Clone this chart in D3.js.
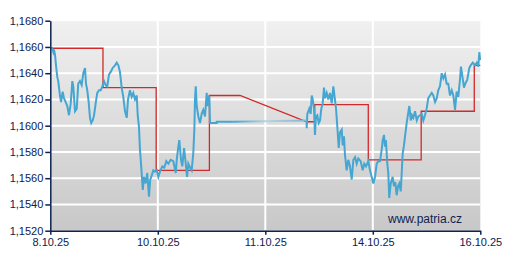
<!DOCTYPE html>
<html>
<head>
<meta charset="utf-8">
<script src="https://cdn.jsdelivr.net/npm/d3@7"></script>
<style>
  body { margin: 0; background: #fff; }
  svg { display: block; font-family: "Liberation Sans", Arial, sans-serif; }
</style>
</head>
<body>
<div id="chart"></div>
<script>
// x positions are in "label slots" (0 = 8.10.25 ... 4 = 16.10.25)
const xLabels = ["8.10.25", "10.10.25", "11.10.25", "14.10.25", "16.10.25"];
const yTicks = [1.152, 1.154, 1.156, 1.158, 1.160, 1.162, 1.164, 1.166, 1.168];

// red step line (daily reference levels)
const redT = [0.015, 0.49, 0.49, 0.985, 0.985, 1.48, 1.48, 1.765, 2.385, 2.46, 2.46, 2.958, 2.958, 3.45, 3.45, 3.944, 3.944, 4.0];
const redV = [1.1659, 1.1659, 1.1629, 1.1629, 1.1566, 1.1566, 1.1623, 1.1623, 1.1603, 1.1603, 1.1616, 1.1616, 1.1574, 1.1574, 1.1611, 1.1611, 1.1646, 1.1646];

// blue intraday quote
const blueT = [0.013, 0.028, 0.034, 0.044, 0.053, 0.065, 0.074, 0.090, 0.100, 0.115, 0.127, 0.143, 0.158, 0.174, 0.190, 0.205, 0.214, 0.230, 0.246, 0.260,
  0.276, 0.292, 0.307, 0.323, 0.332, 0.344, 0.357, 0.369, 0.381, 0.394, 0.407, 0.422, 0.437, 0.453, 0.469, 0.484, 0.500, 0.515, 0.530, 0.546,
  0.562, 0.580, 0.602, 0.618, 0.633, 0.648, 0.664, 0.679, 0.695, 0.711, 0.723, 0.741, 0.757, 0.772, 0.788, 0.804, 0.813, 0.825, 0.834, 0.850,
  0.860, 0.872, 0.887, 0.902, 0.918, 0.930, 0.943, 0.958, 0.974, 0.990, 1.005, 1.020, 1.042, 1.060, 1.079, 1.098, 1.120, 1.144, 1.167, 1.176,
  1.191, 1.200, 1.216, 1.228, 1.244, 1.260, 1.272, 1.284, 1.300, 1.315, 1.330, 1.340, 1.346, 1.353, 1.362, 1.377, 1.393, 1.408, 1.423, 1.439,
  1.455, 1.462, 1.470, 1.479, 1.486, 1.548, 1.548, 1.702, 1.702, 2.385, 2.385, 2.391, 2.400, 2.409, 2.422, 2.432, 2.441, 2.453, 2.462, 2.471,
  2.484, 2.497, 2.509, 2.521, 2.534, 2.546, 2.555, 2.571, 2.586, 2.602, 2.618, 2.633, 2.646, 2.658, 2.670, 2.683, 2.695, 2.711, 2.720, 2.732,
  2.741, 2.757, 2.772, 2.788, 2.804, 2.819, 2.835, 2.850, 2.865, 2.887, 2.906, 2.921, 2.937, 2.958, 2.974, 2.990, 3.005, 3.021, 3.036, 3.051,
  3.067, 3.083, 3.092, 3.104, 3.113, 3.122, 3.135, 3.144, 3.153, 3.167, 3.185, 3.197, 3.209, 3.222, 3.235, 3.247, 3.260, 3.269, 3.278, 3.290,
  3.300, 3.315, 3.328, 3.340, 3.353, 3.364, 3.377, 3.393, 3.409, 3.423, 3.439, 3.455, 3.470, 3.485, 3.501, 3.516, 3.532, 3.548, 3.563, 3.579,
  3.595, 3.609, 3.625, 3.641, 3.656, 3.672, 3.687, 3.702, 3.718, 3.734, 3.749, 3.765, 3.780, 3.795, 3.811, 3.820, 3.836, 3.848, 3.860, 3.879,
  3.898, 3.911, 3.930, 3.951, 3.967, 3.981, 3.991, 3.998];
const blueV = [1.1660, 1.1656, 1.1658, 1.1654, 1.1646, 1.1637, 1.1634, 1.1623, 1.1618, 1.1626, 1.1621, 1.1618, 1.1615, 1.1608, 1.1617, 1.1634, 1.1630, 1.1611, 1.1613, 1.1632,
  1.1634, 1.1631, 1.1640, 1.1644, 1.1632, 1.1627, 1.1618, 1.1606, 1.1602, 1.1604, 1.1608, 1.1617, 1.1625, 1.1627, 1.1627, 1.1630, 1.1634, 1.1631, 1.1630, 1.1639,
  1.1641, 1.1644, 1.1646, 1.1648, 1.1646, 1.1641, 1.1629, 1.1622, 1.1611, 1.1606, 1.1620, 1.1627, 1.1622, 1.1625, 1.1620, 1.1623, 1.1608, 1.1599, 1.1582, 1.1564,
  1.1551, 1.1561, 1.1556, 1.1564, 1.1546, 1.1559, 1.1562, 1.1566, 1.1565, 1.1566, 1.1561, 1.1565, 1.1569, 1.1568, 1.1573, 1.1571, 1.1574, 1.1573, 1.1564, 1.1574,
  1.1584, 1.1589, 1.1574, 1.1569, 1.1583, 1.1571, 1.1561, 1.1571, 1.1568, 1.1566, 1.1579, 1.1597, 1.1620, 1.1630, 1.1615, 1.1607, 1.1602, 1.1609, 1.1612, 1.1607,
  1.1625, 1.1615, 1.1620, 1.1623, 1.1602, 1.1602, 1.1603, 1.1603, 1.1603, 1.1604, 1.1598, 1.1609, 1.1611, 1.1613, 1.1609, 1.1623, 1.1620, 1.1613, 1.1593, 1.1607,
  1.1608, 1.1602, 1.1604, 1.1613, 1.1617, 1.1629, 1.1621, 1.1625, 1.1620, 1.1625, 1.1617, 1.1630, 1.1621, 1.1613, 1.1599, 1.1583, 1.1595, 1.1597, 1.1585, 1.1592,
  1.1578, 1.1566, 1.1574, 1.1569, 1.1559, 1.1574, 1.1576, 1.1571, 1.1575, 1.1573, 1.1566, 1.1571, 1.1569, 1.1573, 1.1566, 1.1561, 1.1556, 1.1561, 1.1571, 1.1573,
  1.1573, 1.1582, 1.1589, 1.1593, 1.1584, 1.1589, 1.1571, 1.1564, 1.1545, 1.1556, 1.1561, 1.1554, 1.1557, 1.1547, 1.1554, 1.1556, 1.1550, 1.1564, 1.1579, 1.1585,
  1.1592, 1.1602, 1.1609, 1.1615, 1.1604, 1.1608, 1.1606, 1.1611, 1.1604, 1.1607, 1.1608, 1.1609, 1.1604, 1.1608, 1.1613, 1.1621, 1.1623, 1.1625, 1.1623, 1.1618,
  1.1621, 1.1627, 1.1630, 1.1640, 1.1636, 1.1639, 1.1632, 1.1632, 1.1623, 1.1627, 1.1623, 1.1612, 1.1626, 1.1622, 1.1635, 1.1645, 1.1636, 1.1629, 1.1632, 1.1635,
  1.1644, 1.1646, 1.1648, 1.1646, 1.1648, 1.1645, 1.1656, 1.1650];

// weekend gap segment of the blue line is drawn faded
const gapStart = blueT.lastIndexOf(1.702);

const width = 509, height = 270;
const margin = { top: 20.7, right: 28.7, bottom: 39.3, left: 50.3 };
const navy = "#0d2250";
const blue = "#45a6d2";

const x = d3.scaleLinear().domain([0, 4]).range([margin.left, width - margin.right]);
const y = d3.scaleLinear().domain([1.152, 1.168]).range([height - margin.bottom, margin.top]);

const svg = d3.select("#chart").append("svg")
  .attr("width", width)
  .attr("height", height);

const defs = svg.append("defs");
const bg = defs.append("linearGradient").attr("id", "bg").attr("x1", 0).attr("y1", 0).attr("x2", 0).attr("y2", 1);
bg.append("stop").attr("offset", "0%").attr("stop-color", "#f0f0f0");
bg.append("stop").attr("offset", "100%").attr("stop-color", "#c8c8c8");

const fade = defs.append("linearGradient").attr("id", "fade")
  .attr("gradientUnits", "userSpaceOnUse")
  .attr("x1", x(blueT[gapStart])).attr("x2", x(blueT[gapStart + 1]))
  .attr("y1", 0).attr("y2", 0);
fade.append("stop").attr("offset", "0%").attr("stop-color", blue);
fade.append("stop").attr("offset", "45%").attr("stop-color", "#b9d3df");
fade.append("stop").attr("offset", "100%").attr("stop-color", "#7db8d6");

svg.append("rect")
  .attr("x", x(0)).attr("y", y(1.168))
  .attr("width", x(4) - x(0)).attr("height", y(1.152) - y(1.168))
  .attr("fill", "url(#bg)");

// grid
svg.append("g").selectAll("line")
  .data(yTicks.slice(1))
  .join("line")
  .attr("x1", x(0)).attr("x2", x(4))
  .attr("y1", d => y(d)).attr("y2", d => y(d))
  .attr("stroke", "#fff").attr("stroke-width", d => d === 1.168 ? 1 : 2);

svg.append("g").selectAll("line")
  .data([1, 2, 3])
  .join("line")
  .attr("x1", d => x(d)).attr("x2", d => x(d))
  .attr("y1", y(1.168)).attr("y2", y(1.152))
  .attr("stroke", "#fff").attr("stroke-width", 2);

// red step line
const redLine = d3.line().x((d, i) => x(redT[i])).y(d => y(d));
svg.append("path")
  .attr("d", redLine(redV))
  .attr("fill", "none")
  .attr("stroke", "#d02a2a")
  .attr("stroke-width", 1.3);

// blue quote, in two solid parts plus the faded gap
const pts = blueT.map((t, i) => [x(t), y(blueV[i])]);
const blueLine = d3.line();
[pts.slice(0, gapStart + 1), pts.slice(gapStart + 1)].forEach(part => {
  svg.append("path")
    .attr("d", blueLine(part))
    .attr("fill", "none")
    .attr("stroke", blue)
    .attr("stroke-width", 2);
});
svg.append("path")
  .attr("d", blueLine(pts.slice(gapStart, gapStart + 2)))
  .attr("fill", "none")
  .attr("stroke", "url(#fade)")
  .attr("stroke-width", 2);

// axes
const fmt = d3.formatLocale({ decimal: ",", thousands: " ", grouping: [3], currency: ["", ""] }).format(".4f");

const yAxis = svg.append("g")
  .attr("transform", `translate(${margin.left},0)`)
  .call(d3.axisLeft(y).tickValues(yTicks).tickFormat(fmt).tickSize(5).tickSizeOuter(0));

const xAxis = svg.append("g")
  .attr("transform", `translate(0,${height - margin.bottom})`)
  .call(d3.axisBottom(x).tickValues([0, 1, 2, 3, 4]).tickFormat(i => xLabels[i]).tickSize(4).tickSizeOuter(0));

[yAxis, xAxis].forEach(g => {
  g.select(".domain").attr("stroke", navy).attr("stroke-width", 1.5);
  g.selectAll(".tick line").attr("stroke", navy).attr("stroke-width", 1.5);
  g.selectAll("text").attr("fill", navy).style("font-size", "11px")
    .style("font-family", "'Liberation Sans', Arial, sans-serif");
});
yAxis.selectAll("text").attr("x", -7);
xAxis.selectAll("text").attr("y", 8);

svg.append("text")
  .attr("x", 462).attr("y", 223)
  .attr("text-anchor", "end")
  .attr("fill", navy)
  .style("font-size", "12px")
  .text("www.patria.cz");
</script>
</body>
</html>
